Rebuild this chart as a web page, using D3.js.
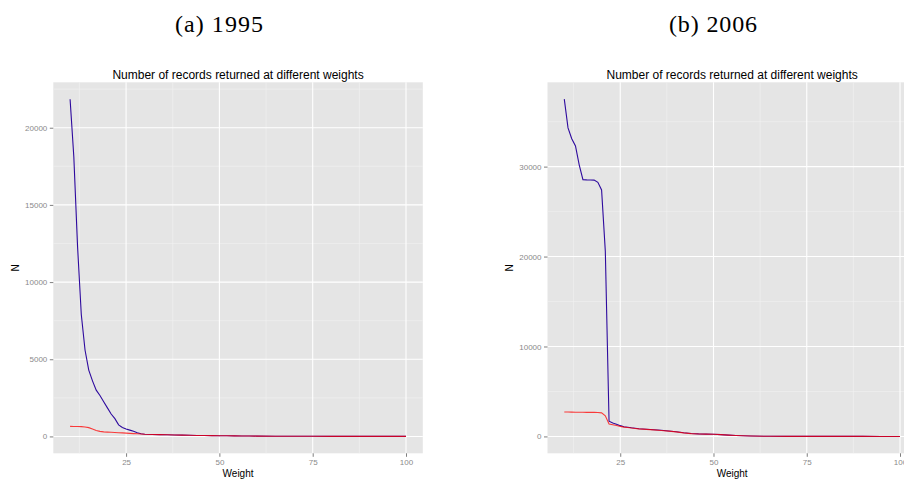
<!DOCTYPE html>
<html>
<head>
<meta charset="utf-8">
<script src="https://cdn.jsdelivr.net/npm/d3@7"></script>
<style>
  html, body { margin: 0; padding: 0; background: #ffffff; }
  svg { display: block; }
</style>
</head>
<body>
<svg id="chart" width="904" height="479"></svg>
<script>
// ---------- data ----------
const weights = [10,11,12,13,14,15,16,17,18,19,20,21,22,23,24,25,26,27,28,29,30,
                 32,34,36,38,40,42,44,46,48,50,52,54,56,58,60,65,70,75,80,85,90,95,100];

// (a) 1995
const blue1995 = [21850,18100,12300,7900,5600,4300,3600,3000,2650,2250,1850,1450,1150,750,580,480,410,330,240,170,140,
                  125,115,105,95,85,75,65,58,50,45,40,35,30,26,22,16,11,8,6,4,3,2,2];
const red1995  = [650,645,640,635,615,570,480,390,330,295,280,268,255,243,230,215,200,185,170,155,140,
                  125,115,105,95,85,75,65,58,50,45,40,35,30,26,22,16,11,8,6,4,3,2,2];

// (b) 2006
const blue2006 = [37500,34300,33100,32300,30200,28550,28530,28520,28500,28250,27400,20600,1700,1500,1350,1200,1080,1020,960,910,860,
                  800,740,680,610,520,410,320,280,260,240,200,150,110,75,45,15,6,4,3,2,2,1,1];
const red2006  = [2720,2710,2700,2695,2690,2685,2680,2675,2670,2660,2620,2300,1380,1300,1220,1120,1040,990,940,890,845,
                  785,725,665,595,505,400,315,275,255,235,200,150,110,75,45,15,6,4,3,2,2,1,1];

const xTicks = [25, 50, 75, 100];
const xMinor = [12.5, 37.5, 62.5, 87.5];
const yTicks1995 = [0, 5000, 10000, 15000, 20000];
const yMinor1995 = [2500, 7500, 12500, 17500, 22500];
const yTicks2006 = [0, 10000, 20000, 30000];
const yMinor2006 = [5000, 15000, 25000, 35000];

const headers = ["(a) 1995", "(b) 2006"];
const plotTitle = "Number of records returned at different weights";
const xLabel = "Weight";
const yLabel = "N";

// ---------- drawing ----------
const svg = d3.select("#chart");
const font = "'Liberation Sans', Arial, Helvetica, sans-serif";

function expand(ext) {
  const pad = (ext[1] - ext[0]) * 0.05;
  return [ext[0] - pad, ext[1] + pad];
}

function panel(opts) {
  const { left, right, top, bottom, blue, red, yTicks, yMinor, header, headerX } = opts;
  const g = svg.append("g");

  const x = d3.scaleLinear().domain(expand(d3.extent(weights))).range([left, right]);
  const allY = blue.concat(red).concat([0]);
  const y = d3.scaleLinear().domain(expand(d3.extent(allY))).range([bottom, top]);

  // header
  g.append("text")
    .attr("x", headerX).attr("y", 31.5)
    .attr("text-anchor", "middle")
    .attr("font-family", "'Liberation Serif', 'Times New Roman', serif")
    .attr("font-size", 24)
    .attr("textLength", 88)
    .attr("lengthAdjust", "spacing")
    .attr("fill", "#000")
    .text(header);

  // panel background
  g.append("rect")
    .attr("x", left).attr("y", top)
    .attr("width", right - left).attr("height", bottom - top)
    .attr("fill", "#e5e5e5");

  // minor grid
  g.selectAll(".xminor").data(xMinor).enter().append("line")
    .attr("x1", d => x(d)).attr("x2", d => x(d))
    .attr("y1", top).attr("y2", bottom)
    .attr("stroke", "#f2f2f2").attr("stroke-width", 0.6);
  g.selectAll(".yminor").data(yMinor.filter(v => y(v) > top)).enter().append("line")
    .attr("x1", left).attr("x2", right)
    .attr("y1", d => y(d)).attr("y2", d => y(d))
    .attr("stroke", "#f2f2f2").attr("stroke-width", 0.6);

  // major grid
  g.selectAll(".xmajor").data(xTicks).enter().append("line")
    .attr("x1", d => x(d)).attr("x2", d => x(d))
    .attr("y1", top).attr("y2", bottom)
    .attr("stroke", "#ffffff").attr("stroke-width", 1.1);
  g.selectAll(".ymajor").data(yTicks).enter().append("line")
    .attr("x1", left).attr("x2", right)
    .attr("y1", d => y(d)).attr("y2", d => y(d))
    .attr("stroke", "#ffffff").attr("stroke-width", 1.1);

  // lines
  const line = d3.line().x((d, i) => x(weights[i])).y(d => y(d));
  g.append("path").datum(blue)
    .attr("d", line).attr("fill", "none")
    .attr("stroke", "#2e0a9e").attr("stroke-width", 1.1);
  g.append("path").datum(red)
    .attr("d", line).attr("fill", "none")
    .attr("stroke", "#ff0000").attr("stroke-width", 1.1)
    .attr("stroke-opacity", 0.75);

  // axes
  const xAxis = d3.axisBottom(x).tickValues(xTicks).tickSize(3.5).tickPadding(2.5).tickFormat(d3.format("d"));
  const gx = g.append("g").attr("transform", `translate(0,${bottom})`).call(xAxis);
  gx.select(".domain").remove();
  gx.selectAll("line").attr("stroke", "#7f7f7f");
  gx.selectAll("text").attr("fill", "#8a8a8a").attr("font-size", 8).attr("font-family", font);

  const yAxis = d3.axisLeft(y).tickValues(yTicks).tickSize(3.5).tickPadding(2.5).tickFormat(d3.format("d"));
  const gy = g.append("g").attr("transform", `translate(${left},0)`).call(yAxis);
  gy.select(".domain").remove();
  gy.selectAll("line").attr("stroke", "#7f7f7f");
  gy.selectAll("text").attr("fill", "#8a8a8a").attr("font-size", 8).attr("font-family", font);

  // titles
  const cx = (left + right) / 2;
  g.append("text")
    .attr("x", cx).attr("y", 79)
    .attr("text-anchor", "middle")
    .attr("font-family", font).attr("font-size", 12)
    .attr("fill", "#000")
    .text(plotTitle);

  g.append("text")
    .attr("x", cx).attr("y", 476.5)
    .attr("text-anchor", "middle")
    .attr("font-family", font).attr("font-size", 10)
    .attr("fill", "#000")
    .text(xLabel);

  g.append("text")
    .attr("transform", `translate(${opts.yLabelX},${(top + bottom) / 2}) rotate(-90)`)
    .attr("text-anchor", "middle")
    .attr("font-family", font).attr("font-size", 10)
    .attr("fill", "#000")
    .text(yLabel);
}

panel({ left: 53.3, right: 422.8, top: 82.3, bottom: 453.3,
        blue: blue1995, red: red1995, yTicks: yTicks1995, yMinor: yMinor1995,
        header: headers[0], headerX: 219, yLabelX: 18.5 });
panel({ left: 547.5, right: 916.8, top: 82.3, bottom: 453.3,
        blue: blue2006, red: red2006, yTicks: yTicks2006, yMinor: yMinor2006,
        header: headers[1], headerX: 713, yLabelX: 513 });
</script>
</body>
</html>
